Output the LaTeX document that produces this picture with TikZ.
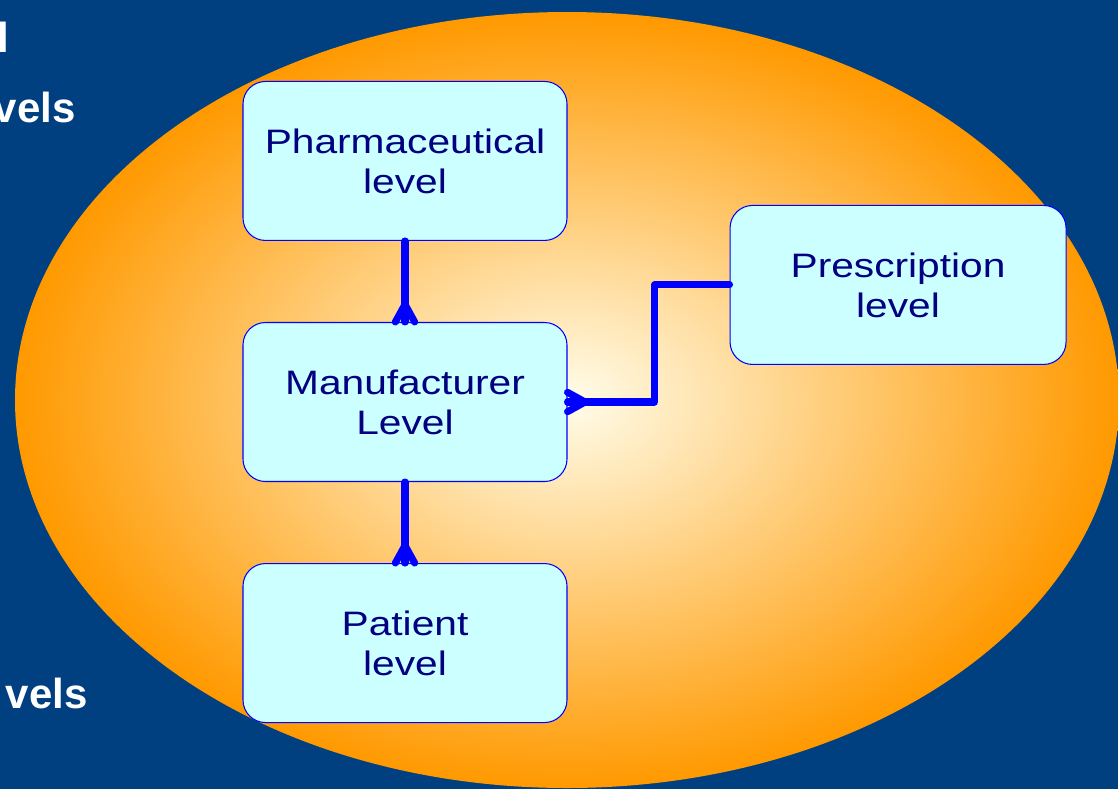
\documentclass[tikz,border=0pt]{standalone}
\usepackage{fontspec}
\setmainfont{Liberation Sans}
\newfontfamily\boxfont[FakeStretch=1.2]{Liberation Sans}
\usetikzlibrary{positioning,decorations.markings}
\definecolor{slideblue}{RGB}{0,64,128}
\definecolor{boxcyan}{RGB}{204,255,255}
\definecolor{textnavy}{RGB}{0,0,128}
\definecolor{linkblue}{RGB}{0,0,255}
\definecolor{ringorange}{RGB}{255,153,0}
\definecolor{coreyellow}{RGB}{255,253,235}

\begin{document}
\begin{tikzpicture}[% styles for all boxes and links
					every node/.style={
						align=center  		% so that "\\" breaks the line
						},
					levelbox/.style={rectangle,rounded corners=0.45cm,draw=linkblue,line width=0.6pt,fill=boxcyan,text=textnavy,
						font=\boxfont\fontsize{19.3}{22.8}\selectfont,
						minimum width=6.48cm,	% box size taken from the slide
						minimum height=3.18cm},
					sidetext/.style={text=white,font=\bfseries\fontsize{23.9}{28}\selectfont,inner sep=0pt,anchor=base east},
					link/.style={draw=linkblue,line width=4pt,line cap=round,line join=round},
					crowsfoot/.style={postaction={decorate},decoration={markings,mark=at position 1 with {\draw[linkblue,line width=4pt,line cap=round] (-10pt,0) -- (0,5.5pt) (-10pt,0) -- (0,-5.5pt);}}}
					]
% background and sun
\path[use as bounding box,fill=slideblue] (0,0) rectangle (22.36,-15.78);
\shade[inner color=coreyellow,outer color=ringorange] (11.34,-8.0) ellipse [x radius=11.04,y radius=7.76];
% text cut off at the slide edge
\node[sidetext](T1) at (0.2,-1.04){l};
\node[sidetext](T2) at (1.52,-2.44){vels};
\node[sidetext](T3) at (1.76,-14.16){vels};
% levels
\node[levelbox](R2) at (8.1,-8.04){Manufacturer\\Level};
\node[levelbox](R1)[above=1.62cm of R2]{Pharmaceutical\\level};
\node[levelbox](R3)[below=1.62cm of R2]{Patient\\level};
\node[levelbox,minimum width=6.72cm](R4)[above right=-0.86cm and 3.24cm of R2]{Prescription\\level};
\draw[link,crowsfoot] (R1) -- (R2);
\draw[link,crowsfoot] (R2) -- (R3);
\draw[link,crowsfoot] (R4.west) -- ++(-1.5cm,0) |- (R2.east);
\end{tikzpicture}
\end{document}
